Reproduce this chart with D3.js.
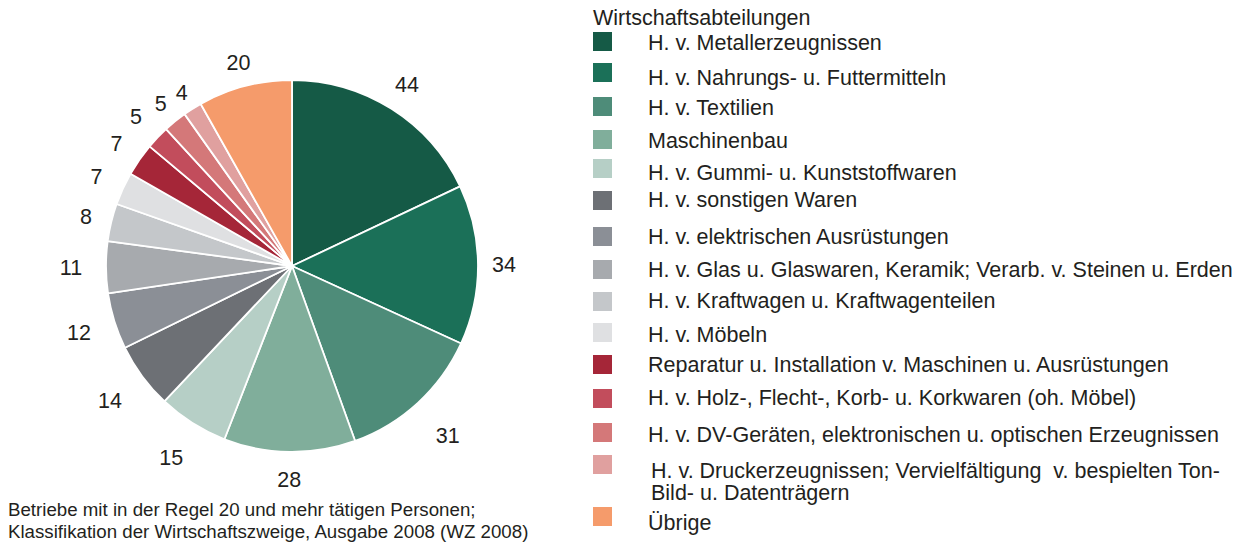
<!DOCTYPE html>
<html>
<head>
<meta charset="utf-8">
<script src="https://cdn.jsdelivr.net/npm/d3@7"></script>
<style>
  body { margin: 0; background: #fff; }
  svg text { font-family: 'Liberation Sans', Arial, sans-serif; fill: #231f20; }
</style>
</head>
<body>
<div id="chart"></div>
<script>
// data
const categories = [
  'H. v. Metallerzeugnissen',
  'H. v. Nahrungs- u. Futtermitteln',
  'H. v. Textilien',
  'Maschinenbau',
  'H. v. Gummi- u. Kunststoffwaren',
  'H. v. sonstigen Waren',
  'H. v. elektrischen Ausrüstungen',
  'H. v. Glas u. Glaswaren, Keramik; Verarb. v. Steinen u. Erden',
  'H. v. Kraftwagen u. Kraftwagenteilen',
  'H. v. Möbeln',
  'Reparatur u. Installation v. Maschinen u. Ausrüstungen',
  'H. v. Holz-, Flecht-, Korb- u. Korkwaren (oh. Möbel)',
  'H. v. DV-Geräten, elektronischen u. optischen Erzeugnissen',
  'H. v. Druckerzeugnissen; Vervielfältigung  v. bespielten Ton-|Bild- u. Datenträgern',
  'Übrige'
];
const values = [44, 34, 31, 28, 15, 14, 12, 11, 8, 7, 7, 5, 5, 4, 20];
const colors = [
  '#155a46', '#1b7058', '#4e8c79', '#80ae9b', '#b6cfc6',
  '#6d7075', '#8b8f96', '#a7aaae', '#c4c7ca', '#dfe0e2',
  '#a52638', '#c24d5c', '#d47879', '#e0a09f', '#f59b6b'
];
const legendTitle = 'Wirtschaftsabteilungen';
const footnote = [
  'Betriebe mit in der Regel 20 und mehr tätigen Personen;',
  'Klassifikation der Wirtschaftszweige, Ausgabe 2008 (WZ 2008)'
];

// layout
const W = 1240, H = 543;
const cx = 292, cy = 266, R = 186;
const labelR = [215, 212, 230, 213, 226, 226, 223, 221, 212, 215, 214, 216, 209, 206, 211];
const swatchY = [32, 63, 97, 130, 159, 191, 227, 260, 292, 323, 355, 389, 423, 455, 507];
const textY = [50, 85, 115, 148, 180, 207, 244, 277, 308, 342, 372, 405, 442, 478, 530];

const svg = d3.select('#chart')
  .append('svg')
  .attr('width', W)
  .attr('height', H);

const pie = d3.pie().sort(null).value(d => d);
const arcs = pie(values);
const arc = d3.arc().innerRadius(0).outerRadius(R);

const gP = svg.append('g').attr('transform', `translate(${cx},${cy})`);

gP.selectAll('path')
  .data(arcs)
  .enter()
  .append('path')
  .attr('d', arc)
  .attr('fill', (d, i) => colors[i])
  .attr('stroke', '#fff')
  .attr('stroke-width', 1.8)
  .attr('stroke-linejoin', 'round');

gP.selectAll('text.pie-label')
  .data(arcs)
  .enter()
  .append('text')
  .attr('class', 'pie-label')
  .attr('transform', (d, i) => {
    const la = d3.arc().innerRadius(labelR[i]).outerRadius(labelR[i]);
    const [x, y] = la.centroid(d);
    return `translate(${x},${y})`;
  })
  .attr('text-anchor', 'middle')
  .attr('dy', '0.36em')
  .style('font-size', '21.5px')
  .text(d => d.data);

// legend
const gLeg = svg.append('g');

gLeg.append('text')
  .attr('x', 593)
  .attr('y', 25)
  .style('font-size', '21.5px')
  .text(legendTitle);

categories.forEach((c, i) => {
  gLeg.append('rect')
    .attr('x', 593)
    .attr('y', swatchY[i])
    .attr('width', 19)
    .attr('height', 19)
    .attr('fill', colors[i]);

  const lines = c.split('|');
  const t = gLeg.append('text')
    .attr('x', lines.length > 1 ? 651 : 648)
    .attr('y', textY[i])
    .style('font-size', '21.5px');
  lines.forEach((l, j) => {
    t.append('tspan')
      .attr('x', lines.length > 1 ? 651 : 648)
      .attr('dy', j === 0 ? 0 : 22)
      .style('white-space', 'pre')
      .text(l);
  });
});

// footnote
footnote.forEach((f, i) => {
  svg.append('text')
    .attr('x', 8)
    .attr('y', 515.5 + i * 22)
    .style('font-size', '18.7px')
    .text(f);
});
</script>
</body>
</html>
